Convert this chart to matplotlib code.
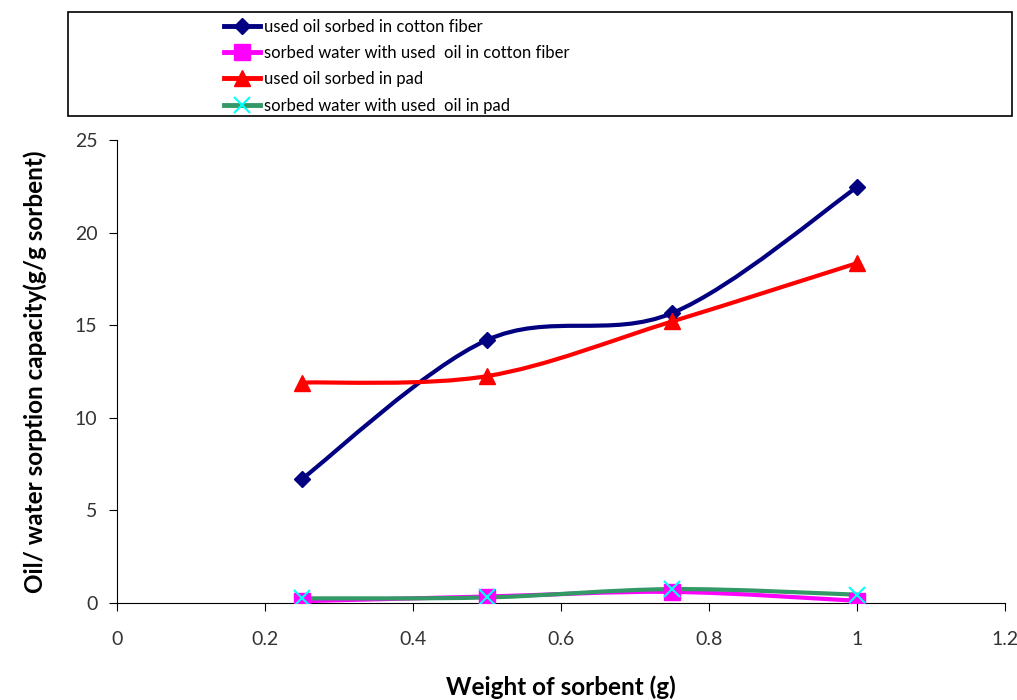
import numpy as np
import matplotlib
matplotlib.use("Agg")
import matplotlib.pyplot as plt
from matplotlib.path import Path
from matplotlib.patches import PathPatch, Rectangle
from matplotlib.lines import Line2D

plt.rcParams["font.family"] = ["Lato", "DejaVu Sans"]

# data
weight = [0.25, 0.5, 0.75, 1.0]
oil_cotton = [6.7, 14.2, 15.65, 22.45]
water_cotton = [0.1, 0.35, 0.6, 0.12]
oil_pad = [11.9, 12.25, 15.2, 18.35]
water_pad = [0.25, 0.3, 0.75, 0.45]

series_names = [
    "used oil sorbed in cotton fiber",
    "sorbed water with used  oil in cotton fiber",
    "used oil sorbed in pad",
    "sorbed water with used  oil in pad",
]


def smooth_path(x, y):
    """
    Excel-style smoothed line: Catmull-Rom segments written as cubic Beziers.
    Only the data points themselves are used to build the control points.
    """
    pts = np.column_stack([x, y]).astype(float)
    n = len(pts)
    verts = [pts[0]]
    codes = [Path.MOVETO]
    for i in range(n - 1):
        p_prev = pts[max(i - 1, 0)]
        p0 = pts[i]
        p1 = pts[i + 1]
        p_next = pts[min(i + 2, n - 1)]
        c1 = p0 + (p1 - p_prev) / 6.0
        c2 = p1 - (p_next - p0) / 6.0
        verts += [c1, c2, p1]
        codes += [Path.CURVE4] * 3
    return Path(verts, codes)


fig = plt.figure(figsize=(10.17, 7.0), dpi=100)
ax = fig.add_axes([117 / 1017, 97 / 700, 888 / 1017, 463 / 700])

styles = [
    (oil_cotton, "#000080", "D", "#000080", 8.5, None),
    (water_cotton, "#FF00FF", "s", "#FF00FF", 11, None),
    (oil_pad, "#FF0000", "^", "#FF0000", 12, None),
    (water_pad, "#339966", "x", "#00FFFF", 11, 1.5),
]

handles = []
for (vals, color, marker, mcolor, msize, mew), name in zip(styles, series_names):
    patch = PathPatch(smooth_path(weight, vals), facecolor="none",
                      edgecolor=color, lw=3.0, capstyle="round", zorder=3)
    ax.add_patch(patch)
    ax.plot(weight, vals, ls="none", marker=marker, ms=msize,
            color=mcolor, mew=mew if mew else 1.0, zorder=4)
    handles.append(Line2D([], [], color=color, lw=3.5, marker=marker,
                          ms=msize, mfc=mcolor, mec=mcolor,
                          mew=mew if mew else 1.0))

ax.set_xlim(0, 1.2)
ax.set_ylim(0, 25)
ax.set_xticks([0, 0.2, 0.4, 0.6, 0.8, 1.0, 1.2])
ax.set_xticklabels(["0", "0.2", "0.4", "0.6", "0.8", "1", "1.2"])
ax.set_yticks([0, 5, 10, 15, 20, 25])
ax.spines["top"].set_visible(False)
ax.spines["right"].set_visible(False)
ax.tick_params(direction="out", length=6, labelsize=14, labelcolor="#333333", pad=8)
ax.tick_params(axis="x", pad=14)

ax.set_xlabel("Weight of sorbent (g)", fontsize=17.5, fontweight="bold", labelpad=20)
ax.set_ylabel("Oil/ water sorption capacity(g/g sorbent)", fontsize=17.5,
              fontweight="bold", labelpad=20)

# legend frame box across the top
fig.patches.append(Rectangle((68 / 1017, 1 - 116 / 700), 944 / 1017, 104 / 700,
                             transform=fig.transFigure, fill=False,
                             edgecolor="black", lw=1.2))
fig.legend(handles, series_names, loc="upper left",
           bbox_to_anchor=(212 / 1017, 1 - 7 / 700), frameon=False,
           fontsize=12, handlelength=2.2, handletextpad=0.25,
           labelspacing=0.62, borderpad=0.2)

fig.savefig("out.png", dpi=100)
